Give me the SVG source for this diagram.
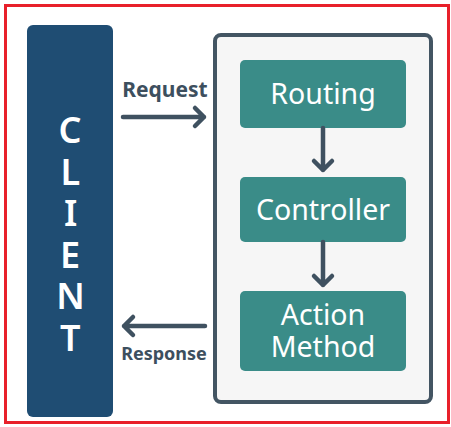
<svg xmlns="http://www.w3.org/2000/svg" width="451" height="427" viewBox="0 0 451 427">
<style>
.teal{fill:#3a8c88;}
.tl{font-family:"Noto Sans","Open Sans",sans-serif;font-size:28.5px;fill:#ffffff;text-anchor:middle;}
.cl{font-family:"Noto Sans","Open Sans",sans-serif;font-size:36px;font-weight:600;fill:#ffffff;writing-mode:vertical-rl;text-orientation:upright;letter-spacing:-7.5px;}
.lbl{font-family:"Noto Sans","Open Sans",sans-serif;font-weight:bold;fill:#3d4f5e;text-anchor:middle;}
.ln{stroke:#3f5160;stroke-width:4.5;fill:none;stroke-linecap:round;stroke-linejoin:round;}
</style>
<rect x="0" y="0" width="451" height="427" fill="#ffffff"/>
<rect x="5.5" y="5.5" width="443" height="417" fill="#ffffff" stroke="#e8202a" stroke-width="3"/>
<g id="client">
<rect x="27" y="25" width="86" height="392" rx="6" fill="#1f4d73"/>
<text class="cl" x="70" y="105">CLIENT</text>
</g>
<g id="server">
<rect x="215" y="35" width="216" height="367" rx="6" fill="#f6f6f6" stroke="#435563" stroke-width="4"/>
</g>
<g id="routing">
<rect class="teal" x="240" y="60" width="166" height="68" rx="5"/>
<text class="tl" x="323" y="104">Routing</text>
</g>
<g id="controller">
<rect class="teal" x="240" y="177" width="166" height="65" rx="5"/>
<text class="tl" x="323" y="220">Controller</text>
</g>
<g id="action">
<rect class="teal" x="240" y="291" width="166" height="80" rx="5"/>
<text class="tl" x="323" y="325">Action<tspan x="323" dy="32">Method</tspan></text>
</g>
<g id="connectors">
<path class="ln" d="M123 117 H204 M195 108 L204 117 L195 126"/>
<path class="ln" d="M205 326 H124 M133 317 L124 326 L133 335"/>
<path class="ln" d="M323 128 V170 M314 161 L323 170 L332 161"/>
<path class="ln" d="M323 242 V285 M314 276 L323 285 L332 276"/>
<text class="lbl" x="165" y="97" font-size="21">Request</text>
<text class="lbl" x="164" y="360" font-size="18">Response</text>
</g>
</svg>
